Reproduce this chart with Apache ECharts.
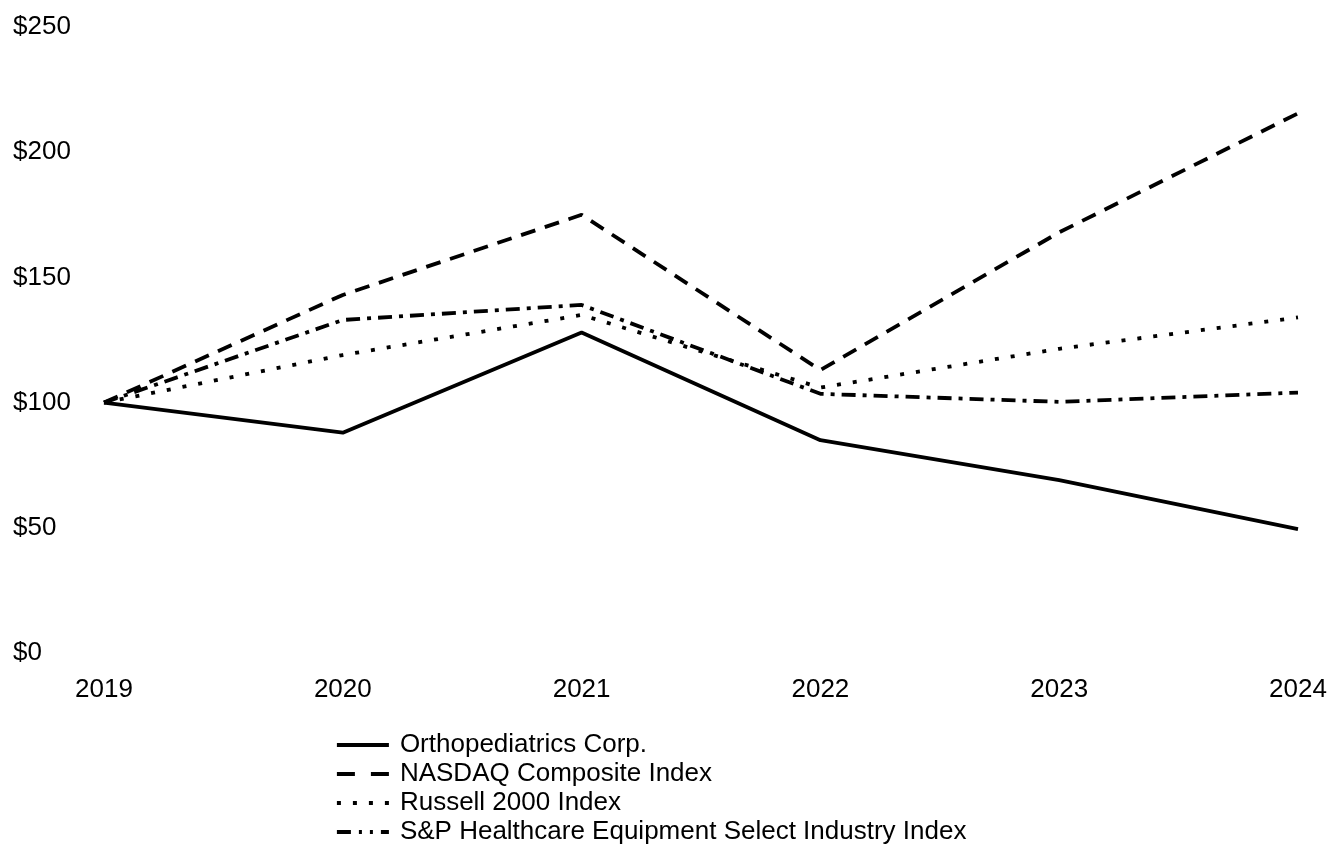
<!DOCTYPE html>
<html><head><meta charset="utf-8">
<script src="https://cdn.jsdelivr.net/npm/echarts@6/dist/echarts.min.js"></script>
<style>html,body{margin:0;padding:0;background:#fff}#c{width:1330px;height:852px}</style>
</head><body><div id="c"></div>
<script>
const years = ['2019','2020','2021','2022','2023','2024'];
const ortho = [100, 88, 128, 85, 69, 49.5];
const nasdaq = [100, 143, 175, 113, 168, 215.5];
const russell = [100, 119, 135, 106, 121.5, 134];
const spHealth = [100, 133, 139, 103.5, 100.3, 104];
const names = ['Orthopediatrics Corp.', 'NASDAQ Composite Index', 'Russell 2000 Index', 'S&P Healthcare Equipment Select Industry Index'];

const font = 'Liberation Sans, Arial, sans-serif';
const dashes = ['solid', [15, 10], [4, 12], [14, 7, 4, 7]];
const legendDashes = ['solid', [18, 16], [4, 12], [14, 8, 3, 8, 3, 8]];
function mk(name, data, type) {
  return { name, type: 'line', data, showSymbol: false, symbol: 'none', silent: true,
    lineStyle: { color: '#000', width: 3.8, type }, itemStyle: { color: '#000' } };
}
const chart = echarts.init(document.getElementById('c'));
chart.setOption({
  animation: false,
  backgroundColor: '#fff',
  grid: { left: 104, right: 32, top: 27, bottom: 199 },
  xAxis: { type: 'category', data: years, boundaryGap: false,
    axisLine: { show: false }, axisTick: { show: false },
    axisLabel: { color: '#000', fontSize: 26, fontFamily: font, margin: 24 } },
  yAxis: { type: 'value', min: 0, max: 250, interval: 50,
    axisLine: { show: false }, axisTick: { show: false }, splitLine: { show: false },
    axisLabel: { color: '#000', fontSize: 26, fontFamily: font, formatter: v => '$' + v, align: 'left', margin: 91 } },
  legend: { orient: 'vertical', left: 330, top: 727, itemWidth: 52, itemHeight: 20, itemGap: 3,
    itemStyle: { opacity: 0 },
    textStyle: { color: '#000', fontSize: 26, fontFamily: font, padding: [0,0,0,6] },
    data: names.map((n, i) => ({ name: n, lineStyle: { type: legendDashes[i], width: 3.8, color: '#000' } })) },
  series: [
    mk(names[0], ortho, dashes[0]),
    mk(names[1], nasdaq, dashes[1]),
    mk(names[2], russell, dashes[2]),
    mk(names[3], spHealth, dashes[3])
  ]
});
</script></body></html>
